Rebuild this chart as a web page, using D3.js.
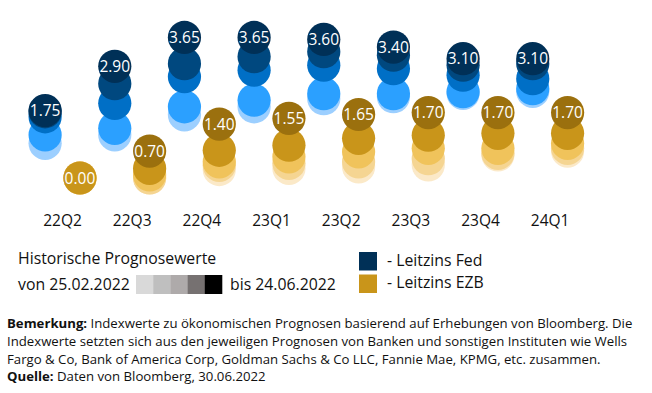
<!DOCTYPE html>
<html>
<head>
<meta charset="utf-8">
<script src="https://cdn.jsdelivr.net/npm/d3@7"></script>
<style>
  html, body { margin: 0; padding: 0; background: #fff; }
  svg { display: block; font-family: "Open Sans", "Noto Sans", sans-serif; }
</style>
</head>
<body>
<svg id="chart" width="652" height="393"></svg>
<script>
// ---- data ----
const quarters = ["22Q2", "22Q3", "22Q4", "23Q1", "23Q2", "23Q3", "23Q4", "24Q1"];
// historical forecast snapshots, oldest (25.02.2022) to newest (24.06.2022)
const fedSnap1 = [0.90, 1.12, 1.64, 1.85, 2.06, 2.11, 2.20, 2.25];
const fedSnap2 = [1.12, 1.29, 1.85, 2.02, 2.19, 2.19, 2.24, 2.32];
const fedSnap3 = [1.59, 1.94, 2.63, 2.80, 2.93, 2.84, 2.67, 2.58];
const fedSnap4 = [1.72, 2.45, 2.97, 3.15, 3.28, 3.19, 2.93, 2.97];
const fedSnap5 = [1.75, 2.90, 3.65, 3.65, 3.60, 3.40, 3.10, 3.10];
const ezbSnap1 = [0.00, 0.00, 0.22, 0.25, 0.29, 0.34, 0.60, 0.70];
const ezbSnap2 = [0.00, 0.00, 0.33, 0.38, 0.42, 0.50, 0.64, 0.77];
const ezbSnap3 = [0.00, 0.08, 0.42, 0.55, 0.68, 0.77, 0.77, 0.90];
const ezbSnap4 = [0.00, 0.25, 0.72, 0.85, 1.03, 1.11, 1.16, 1.16];
const ezbSnap5 = [null, 0.70, 1.40, 1.55, 1.65, 1.70, 1.70, 1.70];
const seriesNames = ["Leitzins Fed", "Leitzins EZB"];
const fedColors = ["#9ccfff", "#2ba0ff", "#006fc6", "#00487f", "#003057"];
const ezbColors = ["#fbe9c8", "#f5d592", "#f0c35b", "#c9951a", "#9b700e"];
const greyScale = ["#d9d9d9", "#bfbfbf", "#aeaaaa", "#767171", "#000000"];
const dateFrom = "25.02.2022", dateTo = "24.06.2022";

const fedSnaps = [fedSnap1, fedSnap2, fedSnap3, fedSnap4, fedSnap5];
const ezbSnaps = [ezbSnap1, ezbSnap2, ezbSnap3, ezbSnap4, ezbSnap5];

const svg = d3.select("#chart");
svg.append("rect").attr("width", 652).attr("height", 393).attr("fill", "#fff");

const x = d3.scaleBand().domain(quarters).range([27.7, 585]);
const xs = d3.scaleBand().domain(seriesNames).range([0, x.bandwidth()]);
const y = d3.scaleLinear().domain([0, 4]).range([178, 24]);
const r = 16.6;

const plot = svg.append("g");

const series = [
  { name: seriesNames[0], snaps: fedSnaps, colors: fedColors },
  { name: seriesNames[1], snaps: ezbSnaps, colors: ezbColors }
];

quarters.forEach((q, qi) => {
  series.forEach(s => {
    const cx = x(q) + xs(s.name) + xs.bandwidth() / 2;
    const pts = [];
    s.snaps.forEach((arr, si) => {
      if (arr[qi] != null) pts.push({ v: arr[qi], c: s.colors[si] });
    });
    plot.selectAll(null).data(pts).enter().append("circle")
      .attr("cx", cx).attr("cy", d => y(d.v)).attr("r", r).attr("fill", d => d.c);
    const last = pts[pts.length - 1];
    plot.append("text")
      .attr("x", cx).attr("y", y(last.v)).attr("dy", "0.36em")
      .attr("text-anchor", "middle").attr("fill", "#fff")
      .attr("font-size", 15.5)
      .text(d3.format(".2f")(last.v));
  });
});

// axis
const axis = svg.append("g").attr("transform", "translate(0,207)")
  .call(d3.axisBottom(x).tickSize(0).tickPadding(8));
axis.select(".domain").remove();
axis.selectAll("text").attr("font-size", 15.5).attr("fill", "#111")
  .attr("font-family", "Open Sans, Noto Sans, sans-serif");

// legend (history)
const lg = svg.append("g").attr("font-size", 15.8).attr("fill", "#111");
lg.append("text").attr("x", 18).attr("y", 264).text("Historische Prognosewerte");
lg.append("text").attr("x", 18).attr("y", 290).text("von " + dateFrom);
const gx = d3.scaleBand().domain(d3.range(greyScale.length)).range([136, 222]);
lg.selectAll(null).data(greyScale).enter().append("rect")
  .attr("x", (d, i) => gx(i)).attr("y", 275).attr("width", gx.bandwidth() + 0.3).attr("height", 19)
  .attr("fill", d => d);
lg.append("text").attr("x", 230).attr("y", 290).text("bis " + dateTo);

// legend (series)
const legendColors = [fedColors[4], "#c9951a"];
const ly = [252, 274.5];
seriesNames.forEach((n, i) => {
  lg.append("rect").attr("x", 359).attr("y", ly[i]).attr("width", 18).attr("height", 18.5).attr("fill", legendColors[i]);
  lg.append("text").attr("x", 387).attr("y", ly[i] + 13.5).text("- " + n);
});

// notes
const notes = [
  { b: "Bemerkung:", t: " Indexwerte zu ökonomischen Prognosen basierend auf Erhebungen von Bloomberg. Die", y: 328 },
  { b: "", t: "Indexwerte setzten sich aus den jeweiligen Prognosen von Banken und sonstigen Instituten wie Wells", y: 346 },
  { b: "", t: "Fargo & Co, Bank of America Corp, Goldman Sachs & Co LLC, Fannie Mae, KPMG, etc. zusammen.", y: 363.5 },
  { b: "Quelle:", t: " Daten von Bloomberg, 30.06.2022", y: 381 }
];
const ng = svg.append("g").attr("font-size", 13.2).attr("fill", "#111");
notes.forEach(n => {
  const t = ng.append("text").attr("x", 7).attr("y", n.y);
  if (n.b) t.append("tspan").attr("font-weight", "bold").text(n.b);
  t.append("tspan").text(n.t);
});
</script>
</body>
</html>
